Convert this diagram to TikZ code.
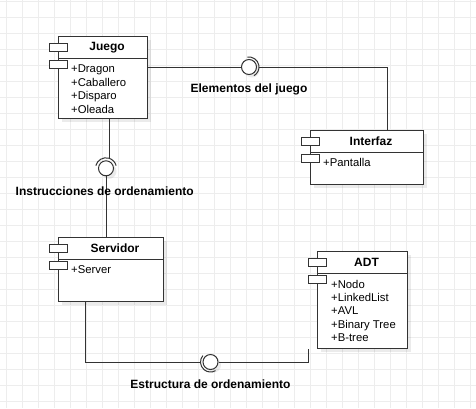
\documentclass[tikz,border=0pt]{standalone}
\usepackage{fontspec}
\setmainfont{Liberation Sans}
\usetikzlibrary{shadows}

\begin{document}
\begin{tikzpicture}[x=1pt, y=-1pt,
    compbox/.style={draw=black!80, line width=1pt, fill=white, inner sep=0pt, anchor=north west,
        drop shadow={shadow xshift=3pt, shadow yshift=-3pt, opacity=0.08, fill=black}},
    compicon/.style={draw=black!80, line width=1pt, fill=white, inner sep=0pt,
        minimum width=18pt, minimum height=7.5pt, anchor=north west},
    comptitle/.style={font=\fontsize{12}{14}\selectfont\bfseries, inner sep=0pt},
    compattr/.style={font=\fontsize{11.3}{13.6}\selectfont, inner sep=0pt, anchor=base west},
    wire/.style={draw=black!80, line width=1pt},
    iface/.style={circle, draw=black!80, line width=1pt, fill=white, minimum size=15pt, inner sep=0pt,
        drop shadow={shadow xshift=3pt, shadow yshift=-3pt, opacity=0.08, fill=black}},
    ifacelabel/.style={font=\fontsize{12}{14}\selectfont\bfseries, inner sep=0pt},
    gridline/.style={draw=black!7, line width=1pt}]
    \useasboundingbox (0,0) rectangle (476,408);
    \fill[white] (0,0) rectangle (476,408);
    % grid
    \foreach \gx in {6.5,22.5,...,470.5}
        \draw[gridline] (\gx,0) -- (\gx,408);
    \foreach \gy in {1.5,17.5,...,401.5}
        \draw[gridline] (0,\gy) -- (476,\gy);

    % components
    \node[compbox, minimum width=89pt, minimum height=82pt] (juego) at (58,36) {};
    \node[compbox, minimum width=113pt, minimum height=54pt] (interfaz) at (310,130) {};
    \node[compbox, minimum width=105pt, minimum height=64pt] (servidor) at (58,237) {};
    \node[compbox, minimum width=90pt, minimum height=97pt] (adt) at (317,251) {};
    \foreach \comp in {juego,interfaz,servidor,adt} {
        \draw[wire] ([yshift=-22.5pt]\comp.north west) -- ([yshift=-22.5pt]\comp.north east);
        \node[compicon] at ([xshift=-9pt,yshift=-7pt]\comp.north west) {};
        \node[compicon] at ([xshift=-9pt,yshift=-24pt]\comp.north west) {};
    }
    \node[comptitle] at ([xshift=4pt,yshift=-11.3pt]juego.north) {Juego};
    \node[comptitle] at ([xshift=4pt,yshift=-11.3pt]interfaz.north) {Interfaz};
    \node[comptitle] at ([xshift=4pt,yshift=-11.3pt]servidor.north) {Servidor};
    \node[comptitle] at ([xshift=4pt,yshift=-11.3pt]adt.north) {ADT};
    \foreach \txt [count=\i from 0] in {+Dragon,+Caballero,+Disparo,+Oleada}
        \node[compattr] at ([xshift=13pt,yshift={-36.5pt-13.7pt*\i}]juego.north west) {\txt};
    \node[compattr] at ([xshift=13pt,yshift=-36.5pt]interfaz.north west) {+Pantalla};
    \node[compattr] at ([xshift=13pt,yshift=-36.5pt]servidor.north west) {+Server};
    \foreach \txt [count=\i from 0] in {+Nodo,+LinkedList,+AVL,+Binary Tree,+B-tree}
        \node[compattr] at ([xshift=14pt,yshift={-37pt-13.4pt*\i}]adt.north west) {\txt};

    % interfaces
    \node[iface] (elem) at (249,67) {};
    \node[iface] (instr) at (106,168.3) {};
    \node[iface] (estr) at (210.5,362) {};
    \coordinate (elemR) at ([xshift=10pt]elem.center);
    \coordinate (instrT) at ([xshift=3pt,yshift=10.5pt]instr.center);
    \coordinate (estrL) at ([xshift=-10pt]estr.center);
    \coordinate (interfazIn) at ([xshift=20.5pt]interfaz.north);
    \coordinate (servOut) at ([xshift=-26pt]servidor.south);
    \coordinate (adtIn) at ([xshift=-9pt]adt.south west);
    \draw[wire] (juego.east |- elem) -- (elem.west);
    \draw[wire] (elemR) -| (interfazIn);
    \draw[wire] (instrT |- juego.south) -- (instrT);
    \draw[wire] (instr.south) -- (instr.south |- servidor.north);
    \draw[wire] (servOut) |- (estrL);
    \draw[wire] (estr.east) -| (adtIn);
    % sockets
    \draw[wire] (elem.center) ++(100:10pt) arc[start angle=100, end angle=-60, radius=10pt];
    \draw[wire] (instr.center) ++(165:10.5pt) arc[start angle=165, end angle=15, radius=10.5pt];
    \draw[wire] (estr.center) ++(140:10pt) arc[start angle=140, end angle=300, radius=10pt];

    \node[ifacelabel] at ([yshift=-22.3pt]elem.center) {Elementos del juego};
    \node[ifacelabel] at ([xshift=-1.3pt,yshift=-23.4pt]instr.center) {Instrucciones de ordenamiento};
    \node[ifacelabel] at ([yshift=-22.3pt]estr.center) {Estructura de ordenamiento};
\end{tikzpicture}
\end{document}
